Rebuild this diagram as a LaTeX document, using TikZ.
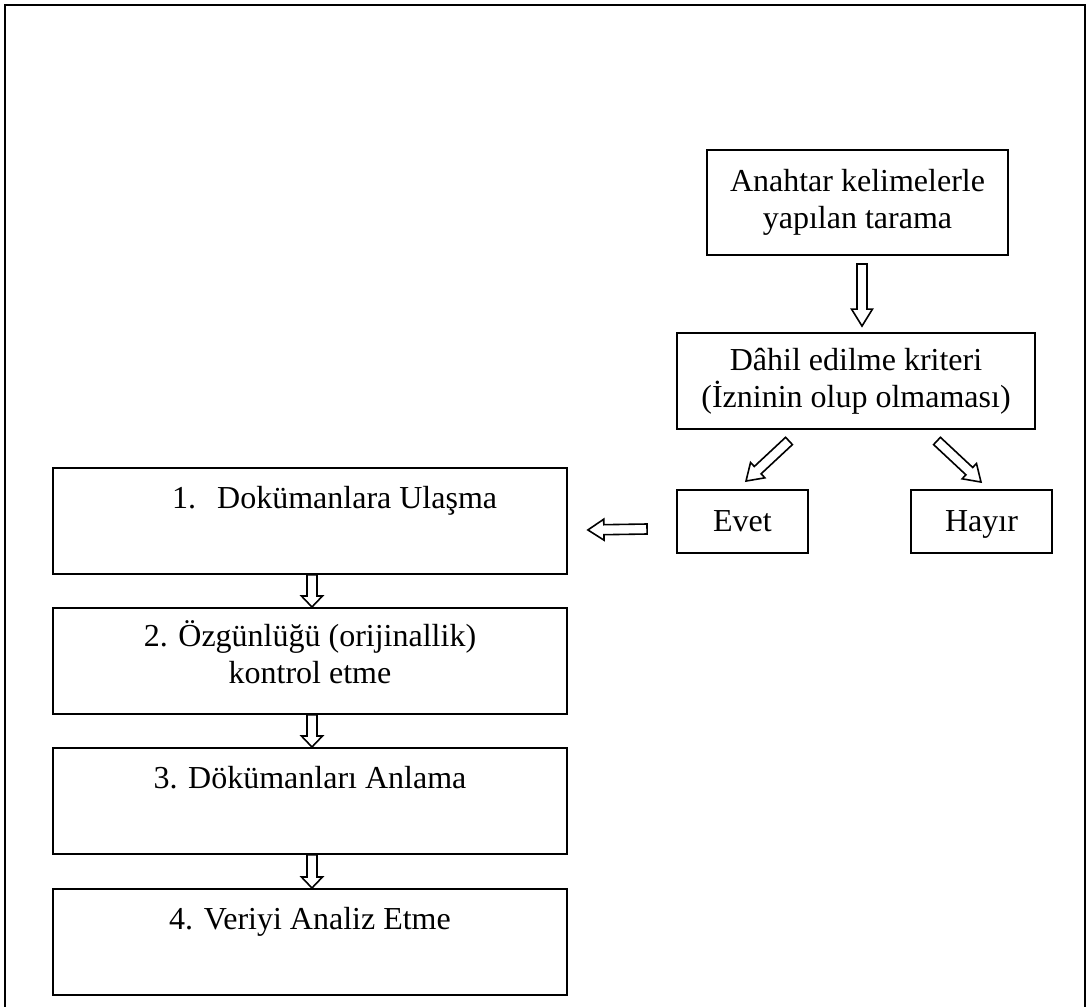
\documentclass[tikz,border=0pt]{standalone}
\usepackage{fontspec}
\setmainfont{Liberation Serif}
\usetikzlibrary{calc}
\newcommand\blkarrow[3]{%
  \coordinate (bh) at ($(#2)!#3!(#1)$);
  \draw[blk] ($(#1)!5pt!90:(#2)$) -- ($(bh)!5pt!-90:(#1)$) -- ($(bh)!10.5pt!-90:(#1)$) -- (#2)
    -- ($(bh)!10.5pt!90:(#1)$) -- ($(bh)!5pt!90:(#1)$) -- ($(#1)!5pt!-90:(#2)$) -- cycle;}
\begin{document}
\begin{tikzpicture}[x=1pt,y=-1pt,
  box/.style={draw=black, line width=1.9pt, rectangle, inner sep=0pt, align=center,
    font=\fontsize{32}{37}\selectfont},
  lbox/.style={box, minimum width=514pt, minimum height=106pt, anchor=north west},
  txt/.style={inner sep=0pt, font=\fontsize{32}{37}\selectfont},
  blk/.style={draw=black, fill=white, line width=1.6pt, line join=miter},
  frame/.style={draw=black, line width=2.4pt}]
\useasboundingbox (0,0) rectangle (1088,1007);
\fill[white] (0,0) rectangle (1088,1007);
\draw[frame] (5,1008) -- (5,5) -- (1085,5) -- (1085,1008);

\node[box, minimum width=301pt, minimum height=105pt] (anahtar) at (857.5,202.5)
  {Anahtar kelimelerle\\yapılan tarama};
\node[box, minimum width=358pt, minimum height=96pt] (dahil) at (856,381)
  {Dâhil edilme kriteri\\(İzninin olup olmaması)};
\node[box, minimum width=131pt, minimum height=63pt, text depth=0pt] (evet) at (742.5,521.5) {Evet};
\node[box, minimum width=141pt, minimum height=63pt, text depth=0pt] (hayir) at (981.5,521.5) {Hayır};

\node[lbox] (b1) at (52,467) {};
\node[lbox] (b2) at (52,607) {};
\node[lbox] (b3) at (52,747) {};
\node[lbox] (b4) at (52,888) {};

\node[txt, anchor=base west] (t1) at ($(b1.north west)+(120,41)$) {1.\hspace{21pt}Dokümanlara Ulaşma};
\node[txt, anchor=base] (t2) at ($(b2.north)+(0,39)$)
  {\begin{tabular}[t]{@{}c@{}}2. Özgünlüğü (orijinallik)\\kontrol etme\end{tabular}};
\node[txt, anchor=base] (t3) at ($(b3.north)+(0,41)$) {3. Dökümanları Anlama};
\node[txt, anchor=base] (t4) at ($(b4.north)+(0,41)$) {4. Veriyi Analiz Etme};

\coordinate (s1) at ($(anahtar.south)+(4.5,8)$);
\coordinate (e1) at ($(dahil.north)+(6,-6)$);
\coordinate (s2) at ($(dahil.south)+(-67,11)$);
\coordinate (e2) at ($(evet.north)+(3.5,-8)$);
\coordinate (s3) at ($(dahil.south)+(81,11)$);
\coordinate (e3) at ($(hayir.north)+(-0.5,-7)$);
\coordinate (s4) at ($(evet.west)+(-29,7.5)$);
\coordinate (e4) at ($(b1.east)+(20,9)$);
\coordinate (s5) at ($(b1.south)+(2,0)$);
\coordinate (e5) at ($(b2.north)+(2,0)$);
\coordinate (s6) at ($(b2.south)+(2,0)$);
\coordinate (e6) at ($(b3.north)+(2,0)$);
\coordinate (s7) at ($(b3.south)+(2,0)$);
\coordinate (e7) at ($(b4.north)+(2,0)$);

\blkarrow{s1}{e1}{17pt}
\blkarrow{s2}{e2}{16pt}
\blkarrow{s3}{e3}{16pt}
\blkarrow{s4}{e4}{16pt}
\blkarrow{s5}{e5}{11pt}
\blkarrow{s6}{e6}{11pt}
\blkarrow{s7}{e7}{11pt}
\end{tikzpicture}
\end{document}
